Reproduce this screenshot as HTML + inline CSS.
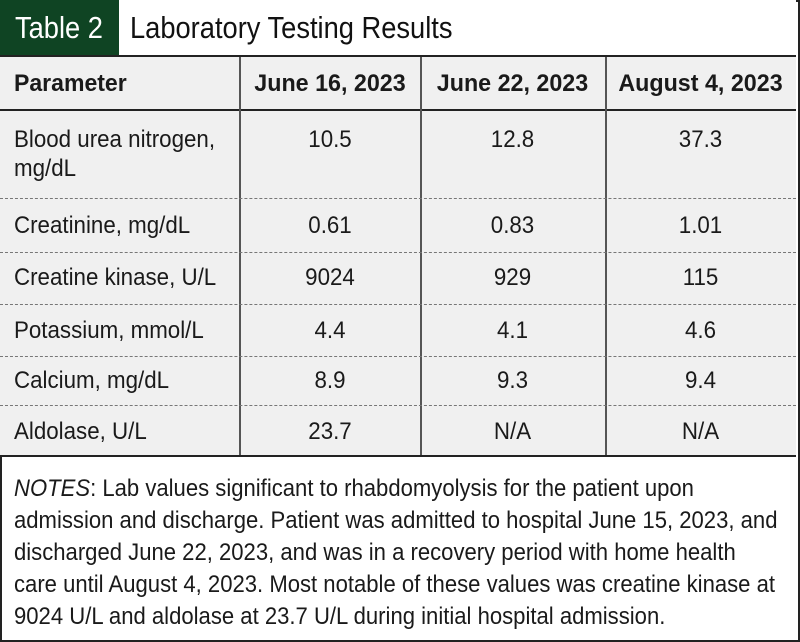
<!DOCTYPE html>
<html><head><meta charset="utf-8"><style>
html,body{margin:0;padding:0;background:#fff}
body{width:800px;height:642px;position:relative;overflow:hidden;font-family:"Liberation Sans",sans-serif;color:#1a1a1a}
.frame{position:absolute;left:0;top:0;width:796px;height:638px;border:2px solid #222}
.title{position:absolute;left:0;top:0;width:796px;height:55px;border-bottom:2px solid #222;background:#fff}
.tag{position:absolute;left:0;top:0;width:119px;height:55px;background:#0f4423}
.tag span{position:absolute;left:15px;top:0;color:#fff;font-size:31px;line-height:56px;white-space:nowrap;transform:scaleX(0.88);transform-origin:left}
.ttl{position:absolute;left:130px;top:0;font-size:31px;line-height:56px;color:#111;white-space:nowrap;transform:scaleX(0.88);transform-origin:left}
.tbl{position:absolute;left:0;top:57px;width:796px;height:398px;background:#f0f0f0}
.hdr{position:absolute;left:0;top:0;width:796px;height:52px;border-bottom:2px solid #222;font-weight:bold}
.hdr .l{transform:scaleX(0.96)}
.hdr .m{transform:scaleX(0.97)}
.v{position:absolute;top:0;width:2px;height:398px;background:#555}
.c{position:absolute;font-size:24px;line-height:29px;white-space:nowrap}
.l{transform:scaleX(0.93);transform-origin:left}
.m{transform:scaleX(0.93);transform-origin:center;text-align:center}
.dash{position:absolute;left:0;width:796px;border-top:1.5px dashed #777}
.bot{position:absolute;left:0;top:455px;width:796px;height:2px;background:#222}
.n{position:absolute;left:14px;font-size:24px;line-height:32px;white-space:nowrap;transform:scaleX(0.92);transform-origin:left}
</style></head><body>
<div class="frame"></div>
<div class="title"><div class="tag"><span>Table 2</span></div><div class="ttl">Laboratory Testing Results</div></div>
<div class="tbl">
 <div class="hdr">
  <div class="c l" style="left:14px;top:12px">Parameter</div>
  <div class="c m" style="left:240px;width:180px;top:12px">June 16, 2023</div>
  <div class="c m" style="left:420px;width:185px;top:12px">June 22, 2023</div>
  <div class="c m" style="left:605px;width:191px;top:12px">August 4, 2023</div>
 </div>
 <div class="v" style="left:239px"></div>
 <div class="v" style="left:420px"></div>
 <div class="v" style="left:605px"></div>
 <div class="c l" style="left:14px;top:68px">Blood urea nitrogen,<br>mg/dL</div>
 <div class="c m" style="left:240px;width:180px;top:68px">10.5</div>
 <div class="c m" style="left:420px;width:185px;top:68px">12.8</div>
 <div class="c m" style="left:605px;width:191px;top:68px">37.3</div>
 <div class="dash" style="top:141px"></div>
 <div class="c l" style="left:14px;top:154px">Creatinine, mg/dL</div>
 <div class="c m" style="left:240px;width:180px;top:154px">0.61</div>
 <div class="c m" style="left:420px;width:185px;top:154px">0.83</div>
 <div class="c m" style="left:605px;width:191px;top:154px">1.01</div>
 <div class="dash" style="top:195px"></div>
 <div class="c l" style="left:14px;top:206px">Creatine kinase, U/L</div>
 <div class="c m" style="left:240px;width:180px;top:206px">9024</div>
 <div class="c m" style="left:420px;width:185px;top:206px">929</div>
 <div class="c m" style="left:605px;width:191px;top:206px">115</div>
 <div class="dash" style="top:247px"></div>
 <div class="c l" style="left:14px;top:259px">Potassium, mmol/L</div>
 <div class="c m" style="left:240px;width:180px;top:259px">4.4</div>
 <div class="c m" style="left:420px;width:185px;top:259px">4.1</div>
 <div class="c m" style="left:605px;width:191px;top:259px">4.6</div>
 <div class="dash" style="top:299px"></div>
 <div class="c l" style="left:14px;top:309px">Calcium, mg/dL</div>
 <div class="c m" style="left:240px;width:180px;top:309px">8.9</div>
 <div class="c m" style="left:420px;width:185px;top:309px">9.3</div>
 <div class="c m" style="left:605px;width:191px;top:309px">9.4</div>
 <div class="dash" style="top:348px"></div>
 <div class="c l" style="left:14px;top:360px">Aldolase, U/L</div>
 <div class="c m" style="left:240px;width:180px;top:360px">23.7</div>
 <div class="c m" style="left:420px;width:185px;top:360px">N/A</div>
 <div class="c m" style="left:605px;width:191px;top:360px">N/A</div>
</div>
<div class="bot"></div>
<div class="n" style="top:473px"><i>NOTES</i>: Lab values significant to rhabdomyolysis for the patient upon</div>
<div class="n" style="top:505px">admission and discharge. Patient was admitted to hospital June 15, 2023, and</div>
<div class="n" style="top:537px">discharged June 22, 2023, and was in a recovery period with home health</div>
<div class="n" style="top:569px">care until August 4, 2023. Most notable of these values was creatine kinase at</div>
<div class="n" style="top:601px">9024 U/L and aldolase at 23.7 U/L during initial hospital admission.</div>
</body></html>
